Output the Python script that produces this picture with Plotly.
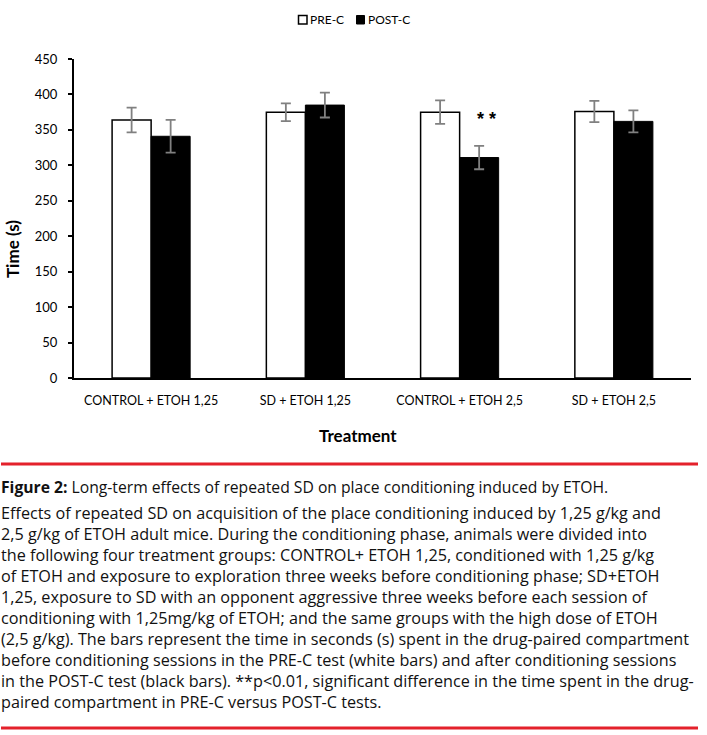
import plotly.graph_objects as go

categories = ["CONTROL + ETOH 1,25", "SD + ETOH 1,25", "CONTROL + ETOH 2,5", "SD + ETOH 2,5"]
pre_c = [364, 375, 375, 376]
pre_c_err = [17.5, 12.5, 16.5, 15]
post_c = [341, 385, 311, 362]
post_c_err = [23, 17.5, 16.5, 15.5]
y_ticks = [0, 50, 100, 150, 200, 250, 300, 350, 400, 450]
series_names = ["PRE-C", "POST-C"]

caption_title = "Figure 2:"
caption_sub = " Long-term effects of repeated SD on place conditioning induced by ETOH."
caption_lines = [
    "Effects of repeated SD on acquisition of the place conditioning induced by 1,25 g/kg and",
    "2,5 g/kg of ETOH adult mice. During the conditioning phase, animals were divided into",
    "the following four treatment groups: CONTROL+ ETOH 1,25, conditioned with 1,25 g/kg",
    "of ETOH and exposure to exploration three weeks before conditioning phase; SD+ETOH",
    "1,25, exposure to SD with an opponent aggressive three weeks before each session of",
    "conditioning with 1,25mg/kg of ETOH; and the same groups with the high dose of ETOH",
    "(2,5 g/kg). The bars represent the time in seconds (s) spent in the drug-paired compartment",
    "before conditioning sessions in the PRE-C test (white bars) and after conditioning sessions",
    "in the POST-C test (black bars). **p<0.01, significant difference in the time spent in the drug-",
    "paired compartment in PRE-C versus POST-C tests.",
]

W, H = 707, 735
# plot area in page pixels
L, R, T, B = 74, 691, 59, 378


def px(x):
    return (x - L) / (R - L)


def py(y):
    return (B - y) / (B - T)


CHART_FONT = "Lato"
CAP_FONT = "Open Sans"

fig = go.Figure()
fig.add_trace(go.Bar(
    name=series_names[0], x=categories, y=pre_c,
    marker=dict(color="white", line=dict(color="black", width=1.5)),
    error_y=dict(type="data", array=pre_c_err, color="#808080", thickness=1.8, width=5),
))
fig.add_trace(go.Bar(
    name=series_names[1], x=categories, y=post_c,
    marker=dict(color="black", line=dict(color="black", width=1)),
    error_y=dict(type="data", array=post_c_err, color="#808080", thickness=1.8, width=5),
))

fig.update_layout(
    width=W, height=H,
    margin=dict(l=L, r=W - R, t=T, b=H - B, autoexpand=False),
    paper_bgcolor="white", plot_bgcolor="white",
    barmode="group", bargap=0.494, bargroupgap=0,
    font=dict(family=CHART_FONT, size=13, color="black"),
    showlegend=False,
)
fig.update_yaxes(range=[0, 450], tickvals=y_ticks, showgrid=False, zeroline=False,
                 showline=True, linecolor="black", linewidth=2,
                 ticks="outside", ticklen=4, tickwidth=1.5, tickcolor="black",
                 tickfont=dict(size=13, family=CHART_FONT), ticklabelstandoff=8)
fig.update_xaxes(showgrid=False, zeroline=False, showline=True, linecolor="black", linewidth=2,
                 ticks="", tickfont=dict(size=12.5, family=CHART_FONT), ticklabelstandoff=10)

# legend (drawn as swatches + labels)
fig.add_shape(type="rect", xref="paper", yref="paper", x0=px(298.5), x1=px(307), y0=py(24), y1=py(15.5),
              line=dict(color="black", width=1.5), fillcolor="white")
fig.add_annotation(xref="paper", yref="paper", x=px(308), y=py(20), text=series_names[0],
                   showarrow=False, xanchor="left", yanchor="middle", font=dict(size=12, family=CHART_FONT))
fig.add_shape(type="rect", xref="paper", yref="paper", x0=px(356.5), x1=px(364.5), y0=py(24), y1=py(15.5),
              line=dict(color="black", width=1), fillcolor="black")
fig.add_annotation(xref="paper", yref="paper", x=px(365.5), y=py(20), text=series_names[1],
                   showarrow=False, xanchor="left", yanchor="middle", font=dict(size=12, family=CHART_FONT))

# significance marker
fig.add_annotation(x=categories[2], y=post_c[2] + 57, text="<b>* *</b>", showarrow=False,
                   xshift=27, yshift=-2, font=dict(size=18, family="Liberation Sans"))

# axis titles
fig.add_annotation(xref="paper", yref="paper", x=px(12), y=py(249), text="<b>Time (s)</b>",
                   textangle=-90, showarrow=False, font=dict(size=17, family=CHART_FONT),
                   xanchor="center", yanchor="middle")
fig.add_annotation(xref="paper", yref="paper", x=px(358), y=py(435), text="<b>Treatment</b>",
                   showarrow=False, font=dict(size=17, family=CHART_FONT),
                   xanchor="center", yanchor="middle")

# caption rules
RED = "#e4212b"
for yy in (464, 728):
    fig.add_shape(type="line", xref="paper", yref="paper", x0=px(1), x1=px(698), y0=py(yy), y1=py(yy),
                  line=dict(color=RED, width=3))

fig.add_annotation(xref="paper", yref="paper", x=px(-1), y=py(487),
                   text="<b>" + caption_title + "</b>" + caption_sub, showarrow=False,
                   xanchor="left", yanchor="middle", align="left",
                   font=dict(size=15.7, family=CAP_FONT, color="#111111"))
for i, line in enumerate(caption_lines):
    fig.add_annotation(xref="paper", yref="paper", x=px(-1), y=py(513 + 21 * i),
                       text=line.replace("<", "&lt;"), showarrow=False,
                       xanchor="left", yanchor="middle", align="left",
                       font=dict(size=16.2, family=CAP_FONT, color="#111111"))

# the page's default 8px body margin would shift the figure; remove it
fig.write_html("out.html", config={"displayModeBar": False},
               post_script="document.body.style.margin='0';")
